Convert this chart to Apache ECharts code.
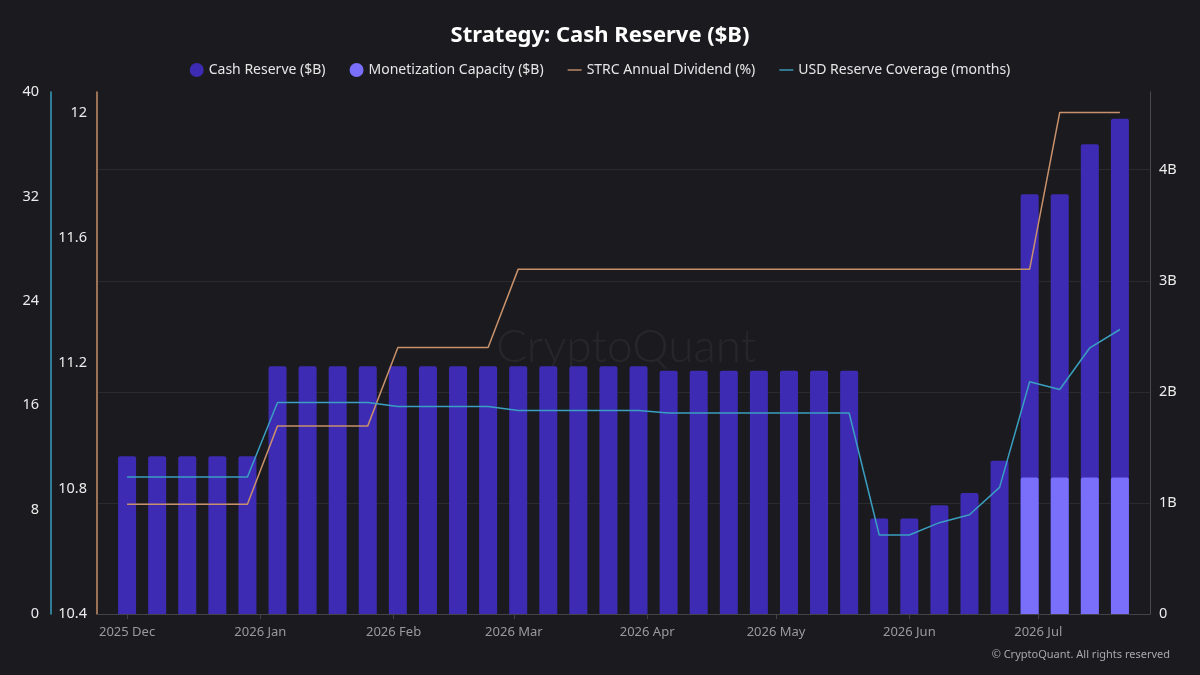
<!DOCTYPE html>
<html>
<head>
<meta charset="utf-8">
<script src="https://cdn.jsdelivr.net/npm/echarts@6/dist/echarts.min.js"></script>
<style>
html,body{margin:0;padding:0;background:#1b1b1f;}
#chart{width:1200px;height:675px;}
</style>
</head>
<body>
<div id="chart"></div>
<script>
// Weekly observation dates
var dates = ['2025-12-01','2025-12-08','2025-12-15','2025-12-22','2025-12-29',
  '2026-01-05','2026-01-12','2026-01-19','2026-01-26',
  '2026-02-02','2026-02-09','2026-02-16','2026-02-23',
  '2026-03-02','2026-03-09','2026-03-16','2026-03-23','2026-03-30',
  '2026-04-06','2026-04-13','2026-04-20','2026-04-27',
  '2026-05-04','2026-05-11','2026-05-18','2026-05-25',
  '2026-06-01','2026-06-08','2026-06-15','2026-06-22','2026-06-29',
  '2026-07-06','2026-07-13','2026-07-20'];
// Cash Reserve ($B)
var cashReserve = [1.42,1.42,1.42,1.42,1.42,
  2.23,2.23,2.23,2.23,
  2.23,2.23,2.23,2.23,
  2.23,2.23,2.23,2.23,2.23,
  2.19,2.19,2.19,2.19,
  2.19,2.19,2.19,0.86,
  0.86,0.98,1.09,1.38,3.78,
  3.78,4.23,4.46];
// Monetization Capacity ($B)
var monetization = [null,null,null,null,null,
  null,null,null,null,
  null,null,null,null,
  null,null,null,null,null,
  null,null,null,null,
  null,null,null,null,
  null,null,null,null,1.23,
  1.23,1.23,1.23];
// STRC Annual Dividend (%)
var strcDividend = [10.75,10.75,10.75,10.75,10.75,
  11.0,11.0,11.0,11.0,
  11.25,11.25,11.25,11.25,
  11.5,11.5,11.5,11.5,11.5,
  11.5,11.5,11.5,11.5,
  11.5,11.5,11.5,11.5,
  11.5,11.5,11.5,11.5,11.5,
  12.0,12.0,12.0];
// USD Reserve Coverage (months)
var usdCoverage = [10.5,10.5,10.5,10.5,10.5,
  16.2,16.2,16.2,16.2,
  15.9,15.9,15.9,15.9,
  15.6,15.6,15.6,15.6,15.6,
  15.4,15.4,15.4,15.4,
  15.4,15.4,15.4,6.05,
  6.05,7.0,7.6,9.7,17.8,
  17.2,20.4,21.8];
// Month tick labels on the x axis
var monthTicks = ['2025-12-01','2026-01-01','2026-02-01','2026-03-01','2026-04-01','2026-05-01','2026-06-01','2026-07-01'];
var monthNames = ['Jan','Feb','Mar','Apr','May','Jun','Jul','Aug','Sep','Oct','Nov','Dec'];

function ts(s){ var p = s.split('-'); return Date.UTC(+p[0], +p[1]-1, +p[2]); }
function pairs(vals){ return dates.map(function(d,i){ return [ts(d), vals[i]]; }); }
var tickTs = monthTicks.map(ts);

var FONT = 'Noto Sans';
var chart = echarts.init(document.getElementById('chart'));
chart.setOption({
  backgroundColor: '#1b1b1f',
  textStyle: { fontFamily: FONT },
  title: {
    text: 'Strategy: Cash Reserve ($B)',
    left: 'center', top: 20,
    textStyle: { color: '#ffffff', fontSize: 22, fontWeight: 'bold', fontFamily: FONT }
  },
  legend: {
    top: 58, left: 'center',
    itemWidth: 14, itemHeight: 14, itemGap: 24,
    textStyle: { color: '#e6e6e6', fontSize: 14, fontFamily: FONT },
    data: [
      { name: 'Cash Reserve ($B)', icon: 'circle' },
      { name: 'Monetization Capacity ($B)', icon: 'circle' },
      { name: 'STRC Annual Dividend (%)', icon: 'path://M0,0L20,0L20,2L0,2Z' },
      { name: 'USD Reserve Coverage (months)', icon: 'path://M0,0L20,0L20,2L0,2Z' }
    ]
  },
  grid: { left: 97, right: 50, top: 92, bottom: 61, containLabel: false },
  xAxis: {
    type: 'value',
    min: ts('2025-11-24'), max: ts('2026-07-27'),
    axisLine: { show: true, onZero: false, lineStyle: { color: '#444448' } },
    axisTick: { show: true, length: 5, lineStyle: { color: '#444448' }, customValues: tickTs },
    axisLabel: {
      color: '#9a9a9e', fontSize: 13, margin: 12,
      customValues: tickTs,
      formatter: function(v){ var d = new Date(v); return d.getUTCFullYear() + ' ' + monthNames[d.getUTCMonth()]; }
    },
    splitLine: { show: false }
  },
  yAxis: [
    {
      type: 'value', position: 'left', offset: 0,
      min: 10.4, max: 12.065, interval: 0.4,
      axisLine: { show: true, lineStyle: { color: '#c8916b', width: 1.5 } },
      axisTick: { show: false },
      axisLabel: { color: '#ececec', fontSize: 14.5, margin: 10, showMaxLabel: false,
        formatter: function(v){ return String(Math.round(v*10)/10); } },
      splitLine: { show: false }
    },
    {
      type: 'value', position: 'left', offset: 46,
      min: 0, max: 40, interval: 8,
      axisLine: { show: true, lineStyle: { color: '#3a9fc0', width: 1.5 } },
      axisTick: { show: false },
      axisLabel: { color: '#ececec', fontSize: 14.5, margin: 12 },
      splitLine: { show: false }
    },
    {
      type: 'value', position: 'right',
      min: 0, max: 4.7, interval: 1,
      axisLine: { show: true, lineStyle: { color: '#4a4a4e' } },
      axisTick: { show: false },
      axisLabel: { color: '#ececec', fontSize: 14.5, margin: 9, showMaxLabel: false,
        formatter: function(v){ return v === 0 ? '0' : (Math.round(v) + 'B'); } },
      splitLine: { show: true, showMaxLine: false, lineStyle: { color: '#2a2a2f' } }
    }
  ],
  series: [
    {
      name: 'Cash Reserve ($B)', type: 'bar', yAxisIndex: 2,
      barWidth: 18, barGap: '-100%',
      itemStyle: { color: '#3d2bb4', borderRadius: [2,2,0,0] },
      data: pairs(cashReserve)
    },
    {
      name: 'Monetization Capacity ($B)', type: 'bar', yAxisIndex: 2,
      barWidth: 18, barGap: '-100%',
      itemStyle: { color: '#7a6ffa', borderRadius: [2,2,0,0] },
      data: pairs(monetization)
    },
    {
      name: 'STRC Annual Dividend (%)', type: 'line', yAxisIndex: 0,
      showSymbol: false, symbol: 'none',
      lineStyle: { color: '#c8916b', width: 1.5 },
      itemStyle: { color: '#c8916b' },
      data: pairs(strcDividend)
    },
    {
      name: 'USD Reserve Coverage (months)', type: 'line', yAxisIndex: 1,
      showSymbol: false, symbol: 'none',
      lineStyle: { color: '#3a9fc0', width: 1.5 },
      itemStyle: { color: '#3a9fc0' },
      data: pairs(usdCoverage)
    }
  ],
  graphic: [
    {
      type: 'text', left: 496, top: 324, z: 0, silent: true,
      style: { text: 'CryptoQuant', fill: 'rgba(255,255,255,0.055)', font: '300 46px Lato' }
    },
    {
      type: 'text', right: 30, top: 649,
      style: { text: '\u00a9 CryptoQuant. All rights reserved', fill: '#a8a8ac', font: '11px ' + FONT }
    }
  ]
});
</script>
</body>
</html>
